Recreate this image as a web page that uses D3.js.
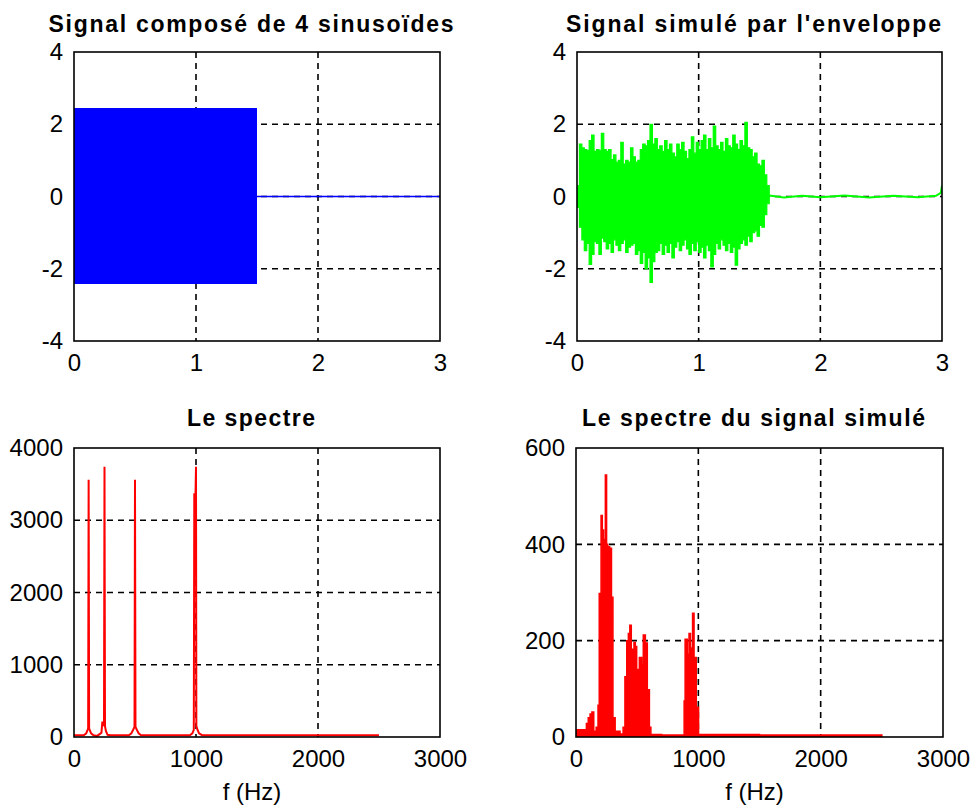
<!DOCTYPE html>
<html>
<head>
<meta charset="utf-8">
<script src="https://cdn.jsdelivr.net/npm/d3@7"></script>
<style>
  body { margin: 0; background: #fff; }
  svg { display: block; }
</style>
</head>
<body>
<svg id="fig" width="970" height="809"></svg>
<script>
// ---- tick labels ----
const timeTicks = [0, 1, 2, 3];
const ampTicks = [-4, -2, 0, 2, 4];
const freqTicks = [0, 1000, 2000, 3000];
const spec1Ticks = [0, 1000, 2000, 3000, 4000];
const spec2Ticks = [0, 200, 400, 600];

// ---- titles ----
const titles = [
  "Signal composé de 4 sinusoïdes",
  "Signal simulé par l'enveloppe",
  "Le spectre",
  "Le spectre du signal simulé"
];
const freqLabel = "f (Hz)";

// ---- composite signal: envelope of the 4 summed sinusoids ----
const sigT = [0, 1.5, 1.5, 3];
const sigHigh = [2.45, 2.45, 0, 0];
const sigLow = [-2.42, -2.42, 0, 0];

// ---- simulated signal: envelope per 0.02 s step ----
const simT = [0.00, 0.02, 0.04, 0.06, 0.08, 0.10, 0.12, 0.14, 0.16, 0.18,
              0.20, 0.22, 0.24, 0.26, 0.28, 0.30, 0.32, 0.34, 0.36, 0.38,
              0.40, 0.42, 0.44, 0.46, 0.48, 0.50, 0.52, 0.54, 0.56, 0.58,
              0.60, 0.62, 0.64, 0.66, 0.68, 0.70, 0.72, 0.74, 0.76, 0.78,
              0.80, 0.82, 0.84, 0.86, 0.88, 0.90, 0.92, 0.94, 0.96, 0.98,
              1.00, 1.02, 1.04, 1.06, 1.08, 1.10, 1.12, 1.14, 1.16, 1.18,
              1.20, 1.22, 1.24, 1.26, 1.28, 1.30, 1.32, 1.34, 1.36, 1.38,
              1.40, 1.42, 1.44, 1.46, 1.48, 1.50, 1.52, 1.54, 1.56, 1.58];
const simHigh = [0.30, 1.45, 1.35, 1.30, 1.28, 1.55, 1.70, 1.25, 1.30, 1.28,
                 1.75, 1.30, 1.25, 1.30, 1.02, 1.15, 0.95, 1.00, 1.50, 0.90,
                 1.00, 0.95, 1.35, 1.10, 0.95, 1.00, 1.30, 1.45, 1.40, 1.55,
                 2.00, 1.45, 1.60, 1.30, 1.40, 1.25, 1.55, 1.30, 1.45, 1.20,
                 1.10, 1.45, 1.30, 1.50, 1.25, 1.05, 1.30, 1.65, 1.20, 1.50,
                 1.30, 1.55, 1.70, 1.30, 1.60, 1.35, 1.95, 1.40, 1.30, 1.50,
                 1.25, 1.60, 1.40, 1.35, 1.70, 1.45, 1.30, 1.55, 1.40, 2.05,
                 1.35, 1.30, 1.10, 1.20, 0.90, 0.85, 1.00, 0.60, 0.30, 0.05];
const simLow = [-0.30, -0.85, -1.20, -1.50, -1.30, -1.88, -1.60, -1.25, -1.30, -1.60,
                -1.15, -1.25, -1.45, -1.30, -1.55, -1.20, -1.35, -1.50, -1.30, -1.20,
                -1.55, -1.40, -1.35, -1.30, -1.60, -1.50, -1.85, -1.55, -2.00, -1.70,
                -2.38, -1.80, -1.55, -1.50, -1.30, -1.60, -1.35, -1.55, -1.30, -1.70,
                -1.40, -1.25, -1.50, -1.35, -1.20, -1.45, -1.60, -1.30, -1.50, -1.25,
                -1.55, -1.40, -1.70, -1.35, -1.50, -1.95, -1.60, -1.30, -1.45, -1.20,
                -1.35, -1.50, -1.30, -1.55, -1.40, -1.90, -1.45, -1.30, -1.20, -1.35,
                -1.10, -1.25, -1.00, -0.95, -1.10, -0.80, -0.85, -0.50, -0.20, -0.05];
// residual noise after the envelope closes
const simTailT = [1.58, 1.70, 1.85, 2.00, 2.20, 2.40, 2.60, 2.80, 2.95, 2.99, 3.00];
const simTailV = [0.03, -0.03, 0.02, -0.02, 0.03, -0.03, 0.02, -0.02, 0.02, 0.10, 0.30];

// ---- spectrum of the composite signal ----
const spec1F = [0, 80, 100, 110, 116, 120, 124, 130, 140, 160, 190, 210, 225, 232, 240, 246,
                250, 254, 262, 275, 300, 450, 470, 485, 496, 500, 504, 515, 530, 550,
                950, 970, 982, 986, 996, 1000, 1003, 1012, 1025, 1050, 2500];
const spec1A = [25, 25, 50, 90, 120, 3560, 120, 90, 50, 25, 15, 40, 60, 200, 200, 150,
                3740, 150, 80, 30, 25, 25, 50, 100, 140, 3560, 140, 100, 50, 25,
                25, 50, 100, 3360, 3360, 3740, 150, 100, 50, 25, 25];

// ---- spectrum of the simulated signal (bin start, magnitude) ----
const spec2F = [0, 85, 100, 115, 130, 145, 165, 180, 190, 205, 215, 225, 240, 250, 260,
                275, 290, 302, 320, 360, 385, 400, 415, 428, 440, 452, 463, 474, 485, 496,
                510, 518, 537, 550, 567, 583, 600, 612, 700, 880, 884, 892, 910, 924, 936,
                953, 965, 983, 1002, 1500, 2000, 2500];
const spec2A = [15, 28, 40, 48, 52, 12, 20, 66, 298, 460, 430, 410, 544, 400, 395,
                392, 290, 40, 12, 6, 20, 125, 200, 215, 232, 182, 160, 196, 188, 140,
                116, 165, 150, 212, 195, 98, 20, 5, 4, 4, 75, 203, 172, 215, 185,
                257, 165, 62, 5, 4, 4, 4];

// ---- figure layout ----
const svg = d3.select("#fig");
const FONT = '"Liberation Sans", Arial, sans-serif';
const fmt = d => String(d);   // plain hyphen-minus, as in the original labels

function panel(id, box, xDom, yDom, xT, yT, title, titleW, titleY) {
  const x = d3.scaleLinear().domain(xDom).range([box.x0, box.x1]);
  const y = d3.scaleLinear().domain(yDom).range([box.y1, box.y0]);
  const g = svg.append("g");
  const w = box.x1 - box.x0, h = box.y1 - box.y0;

  g.append("clipPath").attr("id", "clip" + id)
    .append("rect").attr("x", box.x0).attr("y", box.y0).attr("width", w).attr("height", h);

  // dashed grid at the interior ticks
  const gridX = xT.slice(1, -1), gridY = yT.slice(1, -1);
  const grid = g.append("g").attr("stroke", "#000").attr("stroke-width", 1.6)
    .attr("stroke-dasharray", "6,5");
  grid.selectAll(".gx").data(gridX).join("line")
    .attr("x1", d => x(d)).attr("x2", d => x(d)).attr("y1", box.y0).attr("y2", box.y1);
  grid.selectAll(".gy").data(gridY).join("line")
    .attr("y1", d => y(d)).attr("y2", d => y(d)).attr("x1", box.x0).attr("x2", box.x1);

  const plot = g.append("g").attr("clip-path", `url(#clip${id})`);

  // tick labels
  const ax = g.append("g").attr("transform", `translate(0,${box.y1})`)
    .call(d3.axisBottom(x).tickValues(xT).tickSize(0).tickPadding(13).tickFormat(fmt));
  ax.select(".domain").remove();
  ax.selectAll("text").attr("font-family", FONT).attr("font-size", 24).attr("fill", "#000");
  const ay = g.append("g").attr("transform", `translate(${box.x0},0)`)
    .call(d3.axisLeft(y).tickValues(yT).tickSize(0).tickPadding(11).tickFormat(fmt));
  ay.select(".domain").remove();
  ay.selectAll("text").attr("font-family", FONT).attr("font-size", 24).attr("fill", "#000");

  // title
  g.append("text").attr("x", (box.x0 + box.x1) / 2 - 6).attr("y", titleY)
    .attr("text-anchor", "middle").attr("font-family", FONT).attr("font-weight", "bold")
    .attr("font-size", 23).attr("textLength", titleW).attr("lengthAdjust", "spacing")
    .text(title);

  return { x, y, g, plot, box };
}

function frame(p) {
  const b = p.box;
  p.g.append("rect").attr("x", b.x0).attr("y", b.y0)
    .attr("width", b.x1 - b.x0).attr("height", b.y1 - b.y0)
    .attr("fill", "none").attr("stroke", "#000").attr("stroke-width", 1.6);
}

// --- top left: composite signal ---
const p1 = panel(1, {x0: 74, x1: 440, y0: 52, y1: 341}, [0, 3], [-4, 4],
  timeTicks, ampTicks, titles[0], 405, 32);
const sigData = sigT.map((t, i) => ({t, hi: sigHigh[i], lo: sigLow[i]}));
p1.plot.append("path").datum(sigData)
  .attr("fill", "#0000ff")
  .attr("d", d3.area().x(d => p1.x(d.t)).y0(d => p1.y(d.lo)).y1(d => p1.y(d.hi)));
// flat part once the sinusoids stop
p1.plot.append("path").datum(sigData.filter(d => d.hi === d.lo))
  .attr("fill", "none").attr("stroke", "#0000ff").attr("stroke-width", 1.6)
  .attr("d", d3.line().x(d => p1.x(d.t)).y(d => p1.y(d.hi)));
frame(p1);

// --- top right: simulated signal ---
const p2 = panel(2, {x0: 577, x1: 942, y0: 52, y1: 341}, [0, 3], [-4, 4],
  timeTicks, ampTicks, titles[1], 375, 32);
const simData = simT.map((t, i) => ({t, hi: simHigh[i], lo: simLow[i]}));
p2.plot.append("path").datum(simData)
  .attr("fill", "#00ff00").attr("stroke", "#00ff00").attr("stroke-width", 1.2)
  .attr("d", d3.area().curve(d3.curveStepAfter)
    .x(d => p2.x(d.t)).y0(d => p2.y(d.lo)).y1(d => p2.y(d.hi)));
p2.plot.append("path").datum(simTailT.map((t, i) => ({t, v: simTailV[i]})))
  .attr("fill", "none").attr("stroke", "#00ff00").attr("stroke-width", 2)
  .attr("d", d3.line().x(d => p2.x(d.t)).y(d => p2.y(d.v)));
frame(p2);

// --- bottom left: spectrum ---
const p3 = panel(3, {x0: 74, x1: 440, y0: 448, y1: 737}, [0, 3000], [0, 4000],
  freqTicks, spec1Ticks, titles[2], 128, 426);
p3.plot.append("path").datum(spec1F.map((f, i) => ({f, a: spec1A[i]})))
  .attr("fill", "none").attr("stroke", "#ff0000").attr("stroke-width", 2)
  .attr("stroke-linejoin", "miter")
  .attr("d", d3.line().x(d => p3.x(d.f)).y(d => p3.y(d.a)));
frame(p3);

// --- bottom right: spectrum of simulated signal ---
const p4 = panel(4, {x0: 576, x1: 943, y0: 448, y1: 737}, [0, 3000], [0, 600],
  freqTicks, spec2Ticks, titles[3], 343, 426);
p4.plot.append("path").datum(spec2F.map((f, i) => ({f, a: spec2A[i]})))
  .attr("fill", "#ff0000").attr("stroke", "#ff0000").attr("stroke-width", 1.5)
  .attr("d", d3.area().curve(d3.curveStepAfter)
    .x(d => p4.x(d.f)).y0(p4.y(0)).y1(d => p4.y(d.a)));
frame(p4);

// x-axis labels under the spectra
[p3, p4].forEach(p => {
  p.g.append("text").attr("x", (p.box.x0 + p.box.x1) / 2 - 5).attr("y", 800)
    .attr("text-anchor", "middle").attr("font-family", FONT).attr("font-size", 24)
    .text(freqLabel);
});
</script>
</body>
</html>
